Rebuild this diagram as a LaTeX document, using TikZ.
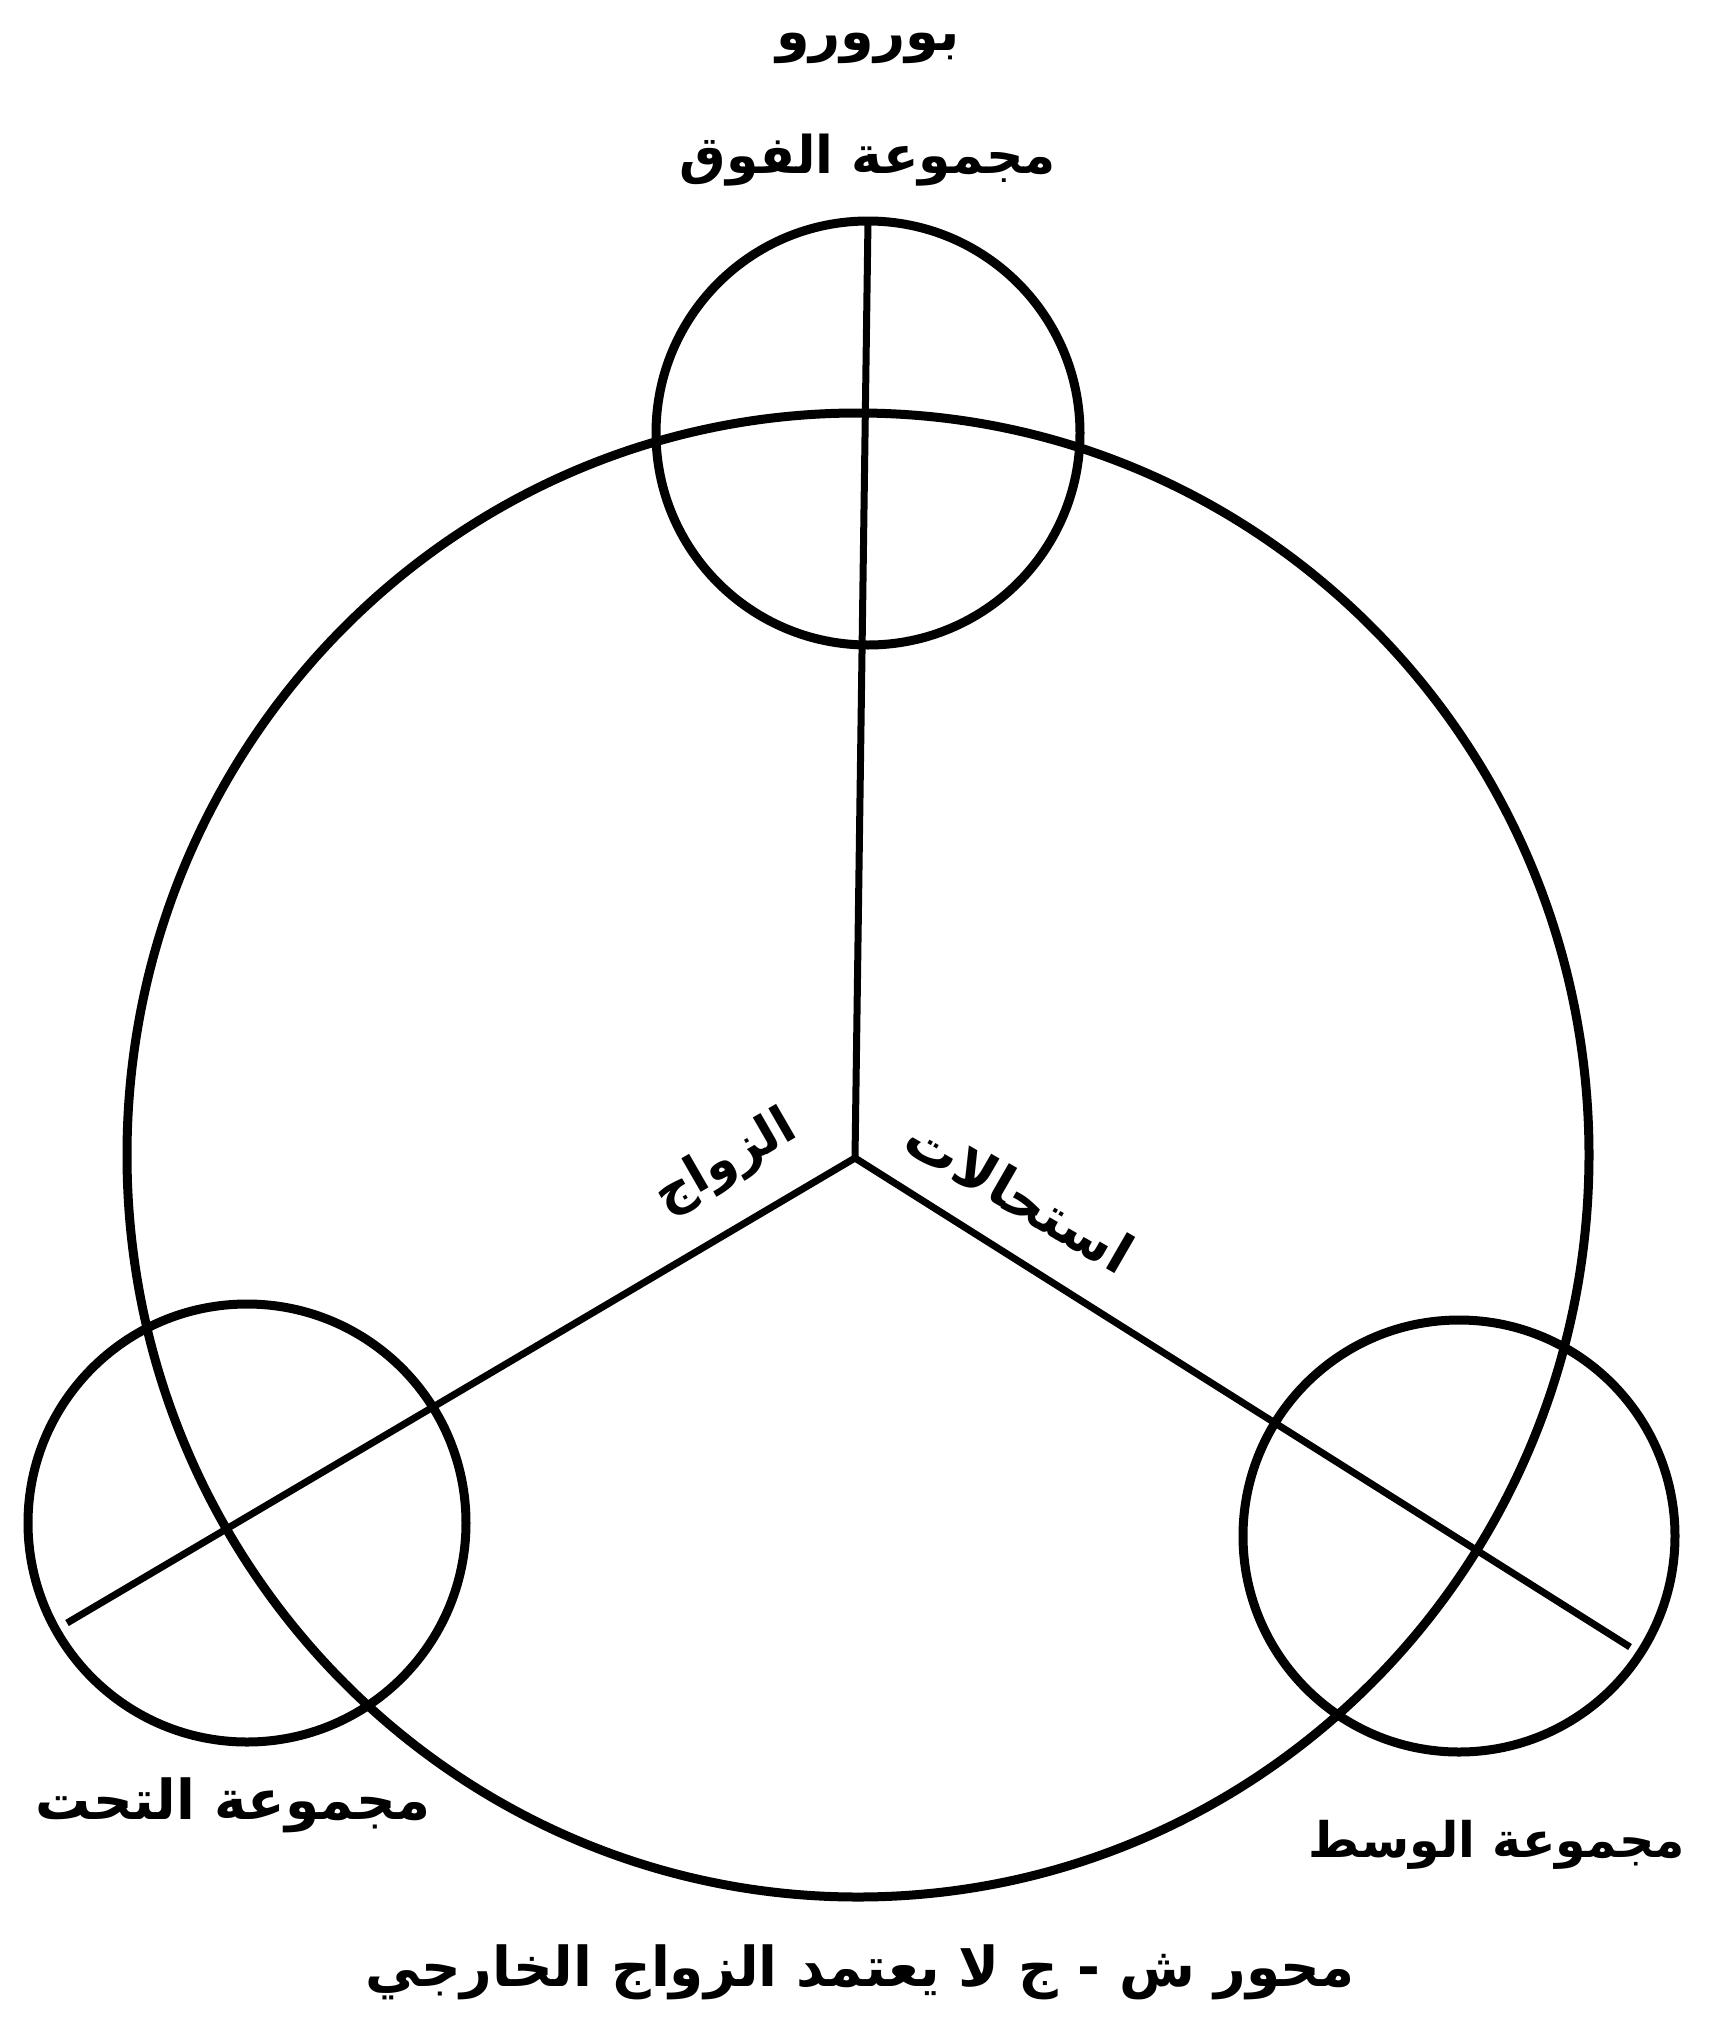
\documentclass[tikz,border=0pt]{standalone}
\usepackage{fontspec}
\usetikzlibrary{shapes.geometric}
\newfontfamily\arabicfont[Script=Arabic]{DejaVu Sans}
\TeXXeTstate=1
\begin{document}
\begin{tikzpicture}[x=1pt,y=-1pt,
  ring/.style={circle,draw,line width=9pt,inner sep=0pt},
  spoke/.style={line width=7pt},
  lbl/.style={inner sep=0pt,font=\arabicfont\bfseries\fontsize{55}{64}\selectfont},
  ttl/.style={inner sep=0pt,font=\arabicfont\bfseries\fontsize{54}{62}\selectfont}]
\useasboundingbox (0,0) rectangle (1708,2029);
% big circle
\node[ellipse,draw,line width=9pt,inner sep=0pt,minimum width=1462pt,minimum height=1484pt] (big) at (858,1155) {};
% small circles
\node[ring,minimum size=424pt] (top) at (868,433) {};
\node[ring,minimum size=438pt] (left) at (247,1523) {};
\node[ring,minimum size=432pt] (right) at (1459,1536) {};
% spokes
\coordinate (hub) at (855,1158);
\coordinate (topend) at (868,220);
\coordinate (leftend) at (67,1623);
\coordinate (rightend) at (1630,1647);
\draw[spoke] (hub) -- (topend);
\draw[spoke] (hub) -- (leftend);
\draw[spoke] (hub) -- (rightend);
% labels
\node[ttl] (title) at (868,48) {\beginR بورورو\endR};
\node[lbl,font=\arabicfont\bfseries\fontsize{52}{60}\selectfont] (ltop) at (868,160) {\beginR مجموعة الفوق\endR};
\node[lbl] (lleft) at (233,1805) {\beginR مجموعة التحت\endR};
\node[lbl,font=\arabicfont\bfseries\fontsize{49}{58}\selectfont] (lright) at (1497,1845) {\beginR مجموعة الوسط\endR};
\node[lbl] (lbottom) at (860,1972) {\beginR محور ش - ج لا يعتمد الزواج الخارجي\endR};
\node[lbl,rotate=30,font=\arabicfont\bfseries\fontsize{51}{60}\selectfont] (lmar) at (726,1163) {\beginR الزواج\endR};
\node[lbl,rotate=-30] (lalt) at (1020,1195) {\beginR استحالات\endR};
\end{tikzpicture}
\end{document}
